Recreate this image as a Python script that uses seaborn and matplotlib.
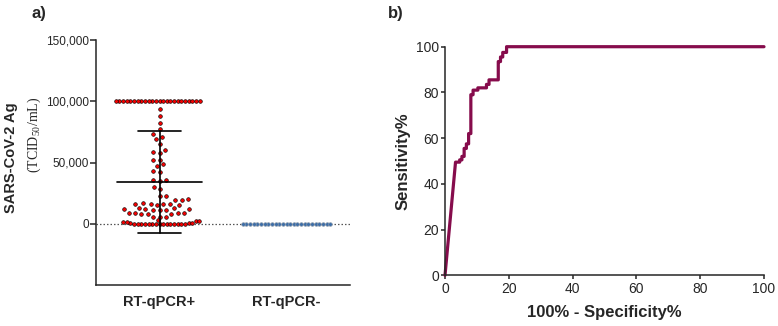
import numpy as np
import pandas as pd
import matplotlib
matplotlib.use("Agg")
import matplotlib.pyplot as plt
import seaborn as sns

# ---------------- data ----------------
groups = ["RT-qPCR+", "RT-qPCR-"]

pos_top = [100000] * 24
pos_upper = [93500, 88100, 82600, 77200, 73400, 70800, 69100, 65000, 60400,
             58500, 57700, 52300, 52300, 48500, 46800, 42700, 42200, 36100,
             35500, 35000, 29900, 28300, 22800, 22800]
pos_lower = [19800, 19500, 19000,
             16800, 16500, 16200, 16000, 15800, 15500, 15200,
             12800, 12500, 12200, 12000, 11800, 11500, 11200, 11000,
             9000, 8800, 8600, 8400, 8200, 8000, 7800,
             5800, 5500, 5200]
pos_zero = [0] * 15 + [400, 700, 1000, 1300, 1600, 2000, 2400, 2700]
neg_values = [0] * 25

pos_mean = 34000
pos_sd = 41500

roc_fpr = [0, 3.3, 4.6, 4.6, 5.3, 5.3, 6.0, 6.0, 6.7, 6.7, 7.4, 7.4, 8.1, 8.1,
           8.8, 8.8, 10.3, 10.3, 13.0, 13.0, 13.8, 13.8, 16.7, 16.7, 17.4,
           17.4, 18.1, 18.1, 19.3, 19.3, 100]
roc_sens = [0, 49.5, 49.5, 50.5, 50.5, 52, 52, 55.5, 55.5, 57.5, 57.5, 62, 62,
            79, 79, 81, 81, 82, 82, 83.5, 83.5, 85.5, 85.5, 93.5, 93.5, 95.5,
            95.5, 97.5, 97.5, 100, 100]

y_ticks_a = [0, 50000, 100000, 150000]
x_ticks_b = [0, 20, 40, 60, 80, 100]
y_ticks_b = [0, 20, 40, 60, 80, 100]

# ---------------- style ----------------
sns.set_style("ticks")
plt.rcParams["font.family"] = ["Liberation Sans", "DejaVu Sans"]
plt.rcParams["mathtext.fontset"] = "custom"
plt.rcParams["mathtext.rm"] = "Liberation Serif"
plt.rcParams["axes.linewidth"] = 1.1

fig = plt.figure(figsize=(7.78, 3.26), dpi=100)
W, H = 778, 326

def ax_rect(x0, x1, ytop, ybot):
    return [x0 / W, 1 - ybot / H, (x1 - x0) / W, (ybot - ytop) / H]

# ---------------- panel a ----------------
ax1 = fig.add_axes(ax_rect(96, 350, 40, 285))
ax1.set_ylim(-50000, 150000)
ax1.set_xlim(-0.5, 1.5)
ax1.axhline(0, color="#555555", lw=0.9, ls=(0, (1.2, 1.6)), zorder=0)

RED, BLUE = "#F20000", "#3F6FA8"
parts = [
    (groups[0], pos_top, RED, "black", 2.0),
    (groups[0], pos_upper + pos_lower, RED, "black", 3.8),
    (groups[0], pos_zero, RED, "black", 2.0),
    (groups[1], neg_values, BLUE, "#8E9AA8", 2.0),
]
for grp, vals, fc, ec, layout_size in parts:
    d = pd.DataFrame({"group": grp, "value": vals})
    sns.swarmplot(data=d, x="group", y="value", order=groups, ax=ax1,
                  color=fc, edgecolor=ec, linewidth=0.5, size=layout_size,
                  zorder=3)

ax1.set_xlim(-0.5, 1.5)
ax1.set_ylim(-50000, 150000)

# let seaborn compute the swarm layout, then fix marker size for display
fig.canvas.draw()
for coll in ax1.collections:
    if "draw" in coll.__dict__:
        del coll.draw
    coll.set_sizes([2.65 ** 2])
    coll.set_linewidth(0.42)

# mean +- SD
ax1.plot([0, 0], [pos_mean - pos_sd, pos_mean + pos_sd], color="black", lw=1.2, zorder=4)
ax1.plot([-0.335, 0.335], [pos_mean, pos_mean], color="black", lw=1.2, zorder=4)
for yv in (pos_mean - pos_sd, pos_mean + pos_sd):
    ax1.plot([-0.17, 0.17], [yv, yv], color="black", lw=1.2, zorder=4)

ax1.set_yticks(y_ticks_a)
ax1.set_yticklabels([f"{v:,}" for v in y_ticks_a], fontsize=8.5)
ax1.set_xticks([0, 1])
ax1.set_xticklabels(groups, fontsize=10.5, fontweight="bold")
ax1.tick_params(axis="x", length=0, pad=7)
ax1.tick_params(axis="y", length=4.3, width=1.1, pad=1)
ax1.set_xlabel("")
ax1.set_ylabel("")
sns.despine(ax=ax1)

fig.text(11 / W, 1 - 158 / H, "SARS-CoV-2 Ag", rotation=90, ha="center",
         va="center", fontsize=10.5, fontweight="bold")
fig.text(34 / W, 1 - 135 / H, r"(TCID$_{\mathregular{50}}$/mL)", rotation=90,
         ha="center", va="center", fontsize=10, family="Liberation Serif")

# ---------------- panel b ----------------
ax2 = fig.add_axes(ax_rect(445, 764, 46.7, 275.3))
df_roc = pd.DataFrame({"fpr": roc_fpr, "sens": roc_sens})
sns.lineplot(data=df_roc, x="fpr", y="sens", sort=False, estimator=None,
             ax=ax2, color="#860C4C", lw=2.3, clip_on=False)
ax2.set_xlim(0, 100)
ax2.set_ylim(0, 100)
ax2.set_xticks(x_ticks_b)
ax2.set_yticks(y_ticks_b)
ax2.tick_params(labelsize=10, length=3, width=1.1, pad=1.5)
ax2.set_xlabel("100% - Specificity%", fontsize=12, fontweight="bold", labelpad=7)
ax2.set_ylabel("Sensitivity%", fontsize=12, fontweight="bold", labelpad=4)
sns.despine(ax=ax2)

# panel letters
fig.text(32 / W, 1 - 6 / H, "a)", fontsize=12, fontweight="bold", va="top")
fig.text(388 / W, 1 - 6 / H, "b)", fontsize=12, fontweight="bold", va="top")

fig.savefig("out.png", dpi=100)
